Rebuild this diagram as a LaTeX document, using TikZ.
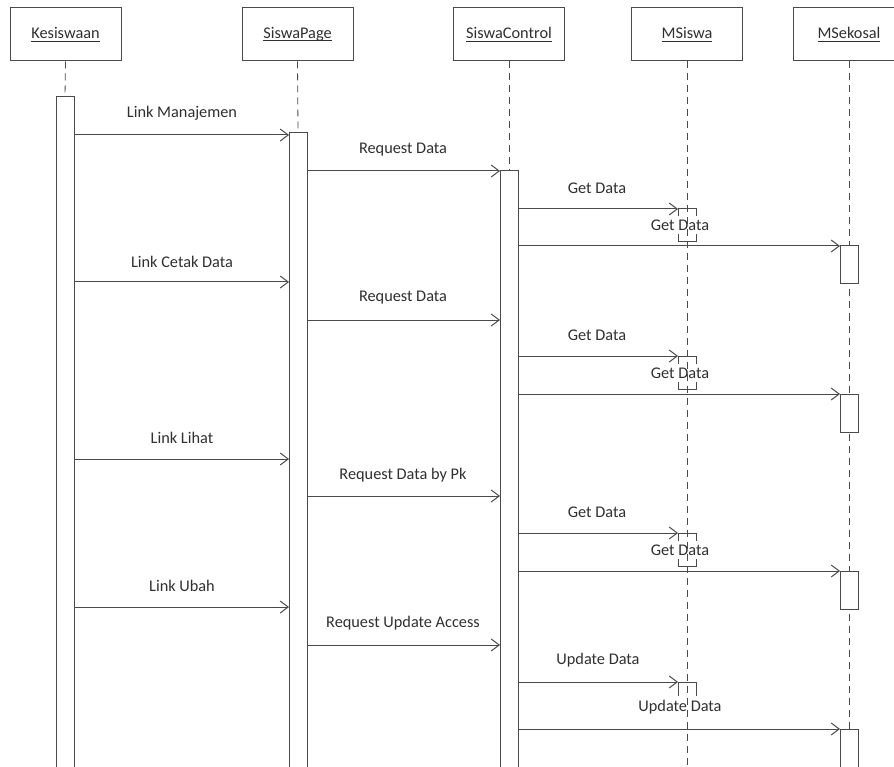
\documentclass[tikz,border=0pt]{standalone}
\usepackage{fontspec}
\setmainfont{Carlito}
\newcommand{\myul}[1]{\setbox0\hbox{#1}\rlap{\rule[-2.4pt]{\wd0}{0.8pt}}\box0}
\usetikzlibrary{arrows.meta}
\definecolor{ln}{HTML}{4A4A4A}
\definecolor{tx}{HTML}{303030}
\begin{document}
\begin{tikzpicture}[x=1pt,y=-1pt,
 actor/.style={draw=ln,line width=1pt,fill=white,minimum width=111pt,minimum height=53pt,inner sep=0pt,text=tx,font=\fontsize{16.3}{19}\selectfont},
 life/.style={draw=ln,line width=0.8pt,dash pattern=on 7pt off 5pt},
 bar/.style={draw=ln,line width=1pt,fill=white},
 sbox/.style={draw=ln,line width=1pt},
 msg/.style={draw=ln,line width=1pt,-{Straight Barb[length=8pt,width=12pt,line width=1pt]}},
 lbl/.style={text=tx,font=\fontsize{16.3}{19}\selectfont,inner sep=1pt},
 lblw/.style={lbl,fill=white,inner xsep=2pt,inner ysep=4pt}]
\useasboundingbox (0,0) rectangle (894,767);
\fill[white] (0,0) rectangle (894,767);
% actors
\node[actor] (kes) at (65.5,34.5) {\myul{Kesiswaan}};
\node[actor] (spg) at (297.5,34.5) {\myul{SiswaPage}};
\node[actor] (sct) at (509,34.5) {\myul{SiswaControl}};
\node[actor] (msi) at (687,34.5) {\myul{MSiswa}};
\node[actor] (mse) at (849,34.5) {\myul{MSekosal}};
% lifeline ends
\coordinate (kesT) at (65,97);
\coordinate (spgT) at (298,133);
\coordinate (sctT) at (509,171);
\coordinate (msiB) at (687,770);
\coordinate (mseB) at (849,770);
\draw[life] (kes.south) -- (kesT);
\draw[life] (spg.south) -- (spgT);
\draw[life] (sct.south) -- (sctT);
\draw[life] (mse.south) -- (mseB);
% activation bars
\draw[bar] (56,97) rectangle (74,775);
\draw[bar] (289,133) rectangle (307,775);
\draw[bar] (500,171) rectangle (518,775);
\foreach \a/\b in {209/242,356/389,533/566,682/715}
  \draw[sbox] (678,\a) rectangle (696,\b);
\foreach \a/\b in {246/284,394/432,571/609,729/775}
  \draw[bar] (840,\a) rectangle (858,\b);
% messages
\foreach \n/\y/\xa/\xb/\lx/\ly/\t in {
  a1/135/74/289/182/113/Link Manajemen,
  a2/171/307/500/403/150/Request Data,
  a3/209/518/678/597/188/Get Data,
  b1/282/74/289/182/262/Link Cetak Data,
  b2/320/307/500/403/298/Request Data,
  b3/356/518/678/597/335/Get Data,
  c1/459/74/289/182/438/Link Lihat,
  c2/496/307/500/403/475/Request Data by Pk,
  c3/533/518/678/597/512/Get Data,
  d1/607/74/289/182/586/Link Ubah,
  d2/645/307/500/403/623/Request Update Access,
  d3/682/518/678/598/660/Update Data}
{
  \coordinate (\n s) at (\xa,\y);
  \coordinate (\n e) at (\xb,\y);
  \draw[msg] (\n s) -- (\n e);
  \node[lbl] (\n l) at (\lx,\ly) {\t};
}
\foreach \n/\y/\ly/\t in {
  a4/246/225/Get Data,
  b4/394/373/Get Data,
  c4/571/550/Get Data,
  d4/729/707/Update Data}
{
  \coordinate (\n s) at (518,\y);
  \coordinate (\n e) at (840,\y);
  \draw[msg] (\n s) -- (\n e);
  \node[lblw] (\n l) at (680,\ly) {\t};
}
\draw[life] (msi.south) -- (msiB);
\end{tikzpicture}
\end{document}
